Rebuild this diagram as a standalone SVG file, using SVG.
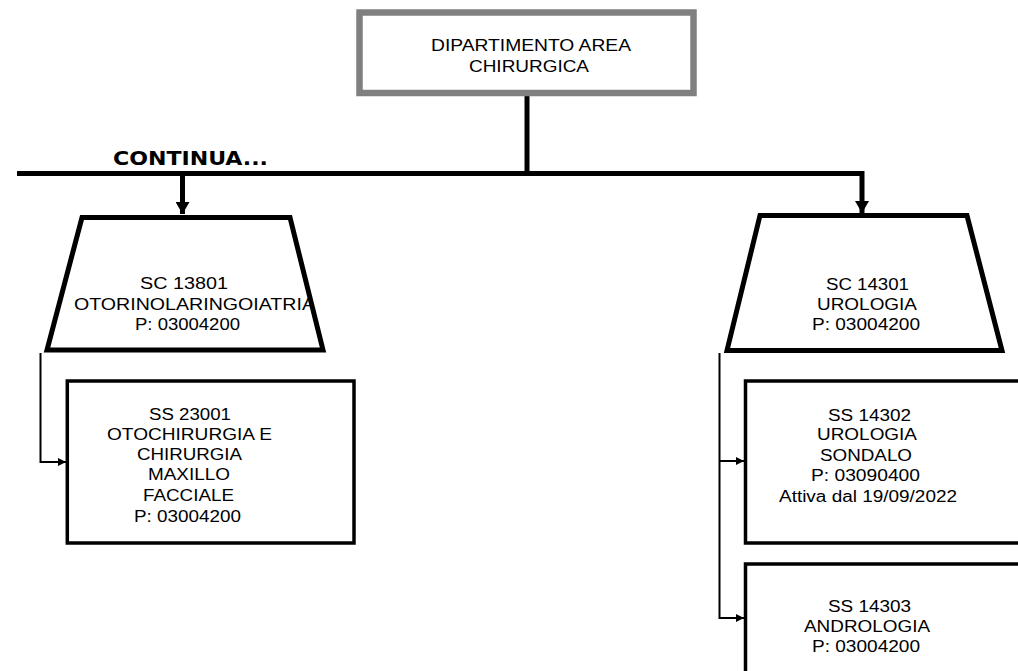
<svg xmlns="http://www.w3.org/2000/svg" width="1018" height="671" viewBox="0 0 1018 671">
<style>
  .t { font-family: "Liberation Sans", Arial, sans-serif; font-size: 16px; fill: #000; }
  .b { font-family: "DejaVu Sans", "Liberation Sans", sans-serif; font-size: 20px; font-weight: bold; fill: #000; }
  .trap { fill: #fff; stroke: #000; stroke-width: 5; stroke-linejoin: miter; }
  .box { fill: #fff; stroke: #000; stroke-width: 3.5; }
  .main { fill: none; stroke: #000; stroke-width: 5; stroke-linejoin: miter; }
  .thin { fill: none; stroke: #000; stroke-width: 2; }
</style>
<defs>
  <marker id="bigArrow" viewBox="0 0 12 14" refX="12" refY="7" markerWidth="12" markerHeight="14" markerUnits="userSpaceOnUse" orient="auto">
    <path d="M0,0 L12,7 L0,14 z" fill="#000"/>
  </marker>
  <marker id="smallArrow" viewBox="0 0 8 8" refX="8" refY="4" markerWidth="8" markerHeight="8" markerUnits="userSpaceOnUse" orient="auto">
    <path d="M0,0 L8,4 L0,8 z" fill="#000"/>
  </marker>
</defs>
<rect width="1018" height="671" fill="#fff"/>

<g id="connectors">
  <path class="main" d="M527,93 V173"/>
  <path class="main" d="M17,173.5 H862 V213" marker-end="url(#bigArrow)"/>
  <path class="main" d="M182.5,173.5 V214" marker-end="url(#bigArrow)"/>
  <path class="thin" d="M40.5,353 V462 H66" marker-end="url(#smallArrow)"/>
  <path class="thin" d="M719.5,353 V618 H744" marker-end="url(#smallArrow)"/>
  <path class="thin" d="M719.5,461 H744" marker-end="url(#smallArrow)"/>
</g>

<g id="continua">
  <text class="b" x="113" y="164.5" textLength="155" lengthAdjust="spacingAndGlyphs">CONTINUA...</text>
</g>

<g id="dipartimento">
  <rect x="359.5" y="12.5" width="334" height="80.5" fill="#fff" stroke="#808080" stroke-width="6.5"/>
  <text class="t" x="431" y="51" textLength="200" lengthAdjust="spacingAndGlyphs">DIPARTIMENTO AREA</text>
  <text class="t" x="469" y="72" textLength="120" lengthAdjust="spacingAndGlyphs">CHIRURGICA</text>
</g>

<g id="sc13801">
  <polygon class="trap" points="82,217.5 290,217.5 323,350 47,350"/>
  <text class="t" x="140" y="288.5" textLength="88" lengthAdjust="spacingAndGlyphs">SC 13801</text>
  <text class="t" x="74" y="310" textLength="241" lengthAdjust="spacingAndGlyphs">OTORINOLARINGOIATRIA</text>
  <text class="t" x="135" y="329.5" textLength="105" lengthAdjust="spacingAndGlyphs">P: 03004200</text>
</g>

<g id="ss23001">
  <rect class="box" x="67.3" y="381" width="286.7" height="162"/>
  <text class="t" x="149" y="420" textLength="82" lengthAdjust="spacingAndGlyphs">SS 23001</text>
  <text class="t" x="107" y="439.5" textLength="165" lengthAdjust="spacingAndGlyphs">OTOCHIRURGIA E</text>
  <text class="t" x="137" y="460" textLength="105" lengthAdjust="spacingAndGlyphs">CHIRURGIA</text>
  <text class="t" x="148" y="480" textLength="82" lengthAdjust="spacingAndGlyphs">MAXILLO</text>
  <text class="t" x="143" y="501" textLength="91" lengthAdjust="spacingAndGlyphs">FACCIALE</text>
  <text class="t" x="134" y="521.5" textLength="107" lengthAdjust="spacingAndGlyphs">P: 03004200</text>
</g>

<g id="sc14301">
  <polygon class="trap" points="760,215.5 967,215.5 1002,350.5 727,350.5"/>
  <text class="t" x="826" y="290" textLength="83" lengthAdjust="spacingAndGlyphs">SC 14301</text>
  <text class="t" x="817" y="310" textLength="100" lengthAdjust="spacingAndGlyphs">UROLOGIA</text>
  <text class="t" x="812" y="330" textLength="108" lengthAdjust="spacingAndGlyphs">P: 03004200</text>
</g>

<g id="ss14302">
  <rect class="box" x="745.5" y="381" width="290" height="162"/>
  <text class="t" x="828" y="420.5" textLength="83" lengthAdjust="spacingAndGlyphs">SS 14302</text>
  <text class="t" x="817" y="440" textLength="100" lengthAdjust="spacingAndGlyphs">UROLOGIA</text>
  <text class="t" x="820" y="460.5" textLength="92" lengthAdjust="spacingAndGlyphs">SONDALO</text>
  <text class="t" x="811" y="481" textLength="109" lengthAdjust="spacingAndGlyphs">P: 03090400</text>
  <text class="t" x="779" y="501.5" textLength="178" lengthAdjust="spacingAndGlyphs">Attiva dal 19/09/2022</text>
</g>

<g id="ss14303">
  <rect class="box" x="745.5" y="564" width="290" height="130"/>
  <text class="t" x="828" y="611.5" textLength="83" lengthAdjust="spacingAndGlyphs">SS 14303</text>
  <text class="t" x="804" y="631.5" textLength="126" lengthAdjust="spacingAndGlyphs">ANDROLOGIA</text>
  <text class="t" x="812" y="651.5" textLength="108" lengthAdjust="spacingAndGlyphs">P: 03004200</text>
</g>
</svg>
